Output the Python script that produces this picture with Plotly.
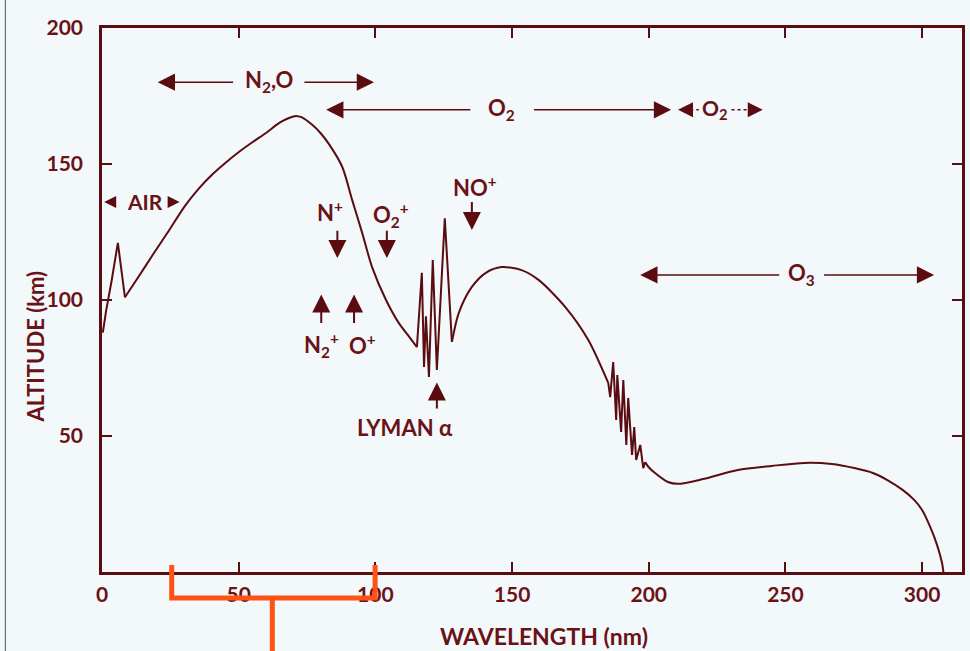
import plotly.graph_objects as go

# ---- data ----
wavelength_nm = [0.3, 1.5, 3.5, 5.8, 8.4, 13, 18.7, 24, 30.3, 35, 40.5, 45, 50.3, 55, 60, 65, 69.7, 71.5,
                 73, 77, 80, 83.1, 87.9, 91.5, 95.2, 98.8, 103.9, 108.6, 112, 115.2,
                 117, 117.8, 118.5, 119.6, 121, 122.5, 123.2, 125.4, 128,
                 130.5, 135.3, 140.4, 146.2, 153.5, 159.7, 169.5, 177.9, 185.2,
                 185.9, 187, 188.1, 188.5, 189.9, 190.7, 191.8, 192.5, 193.9, 194.7, 195.4, 196.9, 198, 198.7,
                 200, 202.3, 207, 210.7, 220, 232.6, 245, 257, 267, 275.2, 282, 287.3, 293, 297.1, 300, 303,
                 305.5, 307.3, 307.8]
altitude_km = [88, 96, 107, 121, 101, 108, 116.8, 124.8, 134.5, 140.5, 146.3, 150.3, 154.6, 158, 161.4, 165.2, 167.4, 167.6,
               167.2, 164.3, 161.3, 157.2, 148.9, 136.8, 124.6, 112.1, 100, 91.5, 87, 82.7,
               110, 75.4, 94, 71.7, 114.7, 74.3, 88, 130, 84.6,
               95.2, 104.8, 110, 112.1, 111, 107.4, 97.4, 85.3, 69.5,
               64.3, 77.2, 55.9, 72.4, 51.5, 70.6, 46.7, 64, 43, 53.3, 41.2, 46.7, 38.2, 40.4,
               38.5, 36.4, 33.1, 32.4, 34.2, 37.5, 39, 40.1, 39.7, 38.2, 36.4, 33.8, 30.1, 26.5, 22.8, 16.5,
               9.9, 3.3, 0]

# wavelengths where the curve turns from smooth to jagged (sharp) and back
segment_breaks = [8.4, 115.2, 128, 185.2, 198.7]

x_tick_vals = [0, 50, 100, 150, 200, 250, 300]
y_tick_vals = [50, 100, 150, 200]

LINE = "#5a0c10"
TXT = "#6a1216"
BG = "#f3f8fb"
FONT = "Lato, DejaVu Sans, sans-serif"

fig = go.Figure()
idx = [0] + [wavelength_nm.index(b) for b in segment_breaks] + [len(wavelength_nm) - 1]
for k in range(len(idx) - 1):
    a, b = idx[k], idx[k + 1]
    smooth = (k % 2 == 1)
    fig.add_trace(go.Scatter(x=wavelength_nm[a:b + 1], y=altitude_km[a:b + 1], mode="lines",
                             line=dict(color=LINE, width=2, shape="spline" if smooth else "linear",
                                       smoothing=0.8),
                             hoverinfo="skip", showlegend=False))

ann = []


def arrow(hx, hy, tx, ty, w=1.5, s=2.3):
    ann.append(dict(x=hx, y=hy, ax=tx, ay=ty, xref="x", yref="y", axref="x", ayref="y",
                    text="", showarrow=True, arrowhead=2, arrowsize=s, arrowwidth=w,
                    arrowcolor=LINE, standoff=0, startstandoff=0))


def label(x, y, t, size=22):
    ann.append(dict(x=x, y=y, xref="x", yref="y", text=t, showarrow=False,
                    xanchor="center", yanchor="middle",
                    font=dict(family=FONT, size=size, color=TXT, weight="bold")))


# N2,O band
label(61, 180.5, "N<sub>2</sub>,O")
arrow(20.4, 180.1, 48.5, 180.1)
arrow(99.5, 180.1, 73.5, 180.1)
# O2 band
label(146.2, 170.3, "O<sub>2</sub>")
arrow(82.0, 169.9, 135.3, 169.9)
arrow(208.2, 169.9, 157.5, 169.9)
# dashed O2 band
label(224.2, 170.3, "O<sub>2</sub>", 21)
arrow(210.7, 169.9, 213.0, 169.9, 1.5, 2.0)
arrow(241.7, 169.9, 239.4, 169.9, 1.5, 2.0)
# AIR
label(15.6, 136.2, "AIR", 21)
arrow(0.8, 136, 3.4, 136, 1.5, 1.6)
arrow(28.4, 136, 25.8, 136, 1.5, 1.6)
# O3
label(255.8, 109.6, "O<sub>3</sub>")
arrow(196.9, 109.2, 248.3, 109.2)
arrow(304.4, 109.2, 263.6, 109.2)
# ions
label(83.3, 132.6, "N<sup>+</sup>")
arrow(86.1, 115.4, 86.1, 126.0, 2, 1.8)
label(105.6, 131.2, "O<sub>2</sub><sup>+</sup>")
arrow(104.2, 115.4, 104.2, 126.0, 2, 1.8)
label(136.4, 141.6, "NO<sup>+</sup>")
arrow(135.3, 125.7, 135.3, 136.6, 2, 1.8)
label(80.3, 83.3, "N<sub>2</sub><sup>+</sup>")
arrow(80.2, 102.0, 80.2, 91.0, 2, 1.8)
label(95.3, 83.5, "O<sup>+</sup>")
arrow(92.2, 102.0, 92.2, 91.0, 2, 1.8)
label(110.8, 53.3, "LYMAN α")
arrow(122.5, 69.7, 122.5, 59.6, 2, 1.8)

# axis titles
ann.append(dict(x=-0.0775, y=0.415, xref="paper", yref="paper", text="ALTITUDE (km)", textangle=-90,
                xanchor="center", yanchor="middle",
                showarrow=False, font=dict(family=FONT, size=22, color=TXT, weight="bold")))
ann.append(dict(x=0.514, y=-0.117, xref="paper", yref="paper", text="WAVELENGTH (nm)",
                xanchor="center", yanchor="middle",
                showarrow=False, font=dict(family=FONT, size=23, color=TXT, weight="bold")))

shapes = [
    dict(type="line", xref="x", yref="y", x0=213.0, x1=218.3, y0=169.9, y1=169.9,
         line=dict(color=LINE, width=1.5, dash="3px,3px")),
    dict(type="line", xref="x", yref="y", x0=230.3, x1=239.4, y0=169.9, y1=169.9,
         line=dict(color=LINE, width=1.5, dash="3px,3px")),
    # orange bracket overlay
    dict(type="path", xref="x", yref="paper",
         path="M 25.5,0.013 L 25.5,-0.048 L 99.9,-0.048 L 99.9,0.013",
         line=dict(color="#ff5214", width=5)),
    dict(type="line", xref="x", yref="paper", x0=62.3, x1=62.3, y0=-0.048, y1=-0.15,
         line=dict(color="#ff5214", width=5)),
    # scan edge line
    dict(type="line", xref="paper", yref="paper", x0=-0.1124, x1=-0.1124, y0=-0.15, y1=1.06,
         line=dict(color="#555555", width=1)),
]

fig.update_layout(
    width=970, height=651,
    margin=dict(l=102, r=5, t=28, b=79),
    paper_bgcolor=BG, plot_bgcolor=BG,
    font=dict(family=FONT, size=20, color=TXT, weight="bold"),
    annotations=ann, shapes=shapes, showlegend=False,
)
axis_common = dict(ticks="inside", ticklen=10, tickwidth=2, tickcolor=LINE, showline=True,
                   linecolor=LINE, linewidth=2.5, mirror="ticks", showgrid=False, zeroline=False,
                   tickfont=dict(family=FONT, size=21, color=TXT, weight="bold"))
fig.update_xaxes(range=[0, 314.6], tickvals=x_tick_vals, ticklabelstandoff=2, **axis_common)
fig.update_yaxes(range=[0, 200], tickvals=y_tick_vals, ticklabelstandoff=12, **axis_common)

fig.write_html("out.html")
